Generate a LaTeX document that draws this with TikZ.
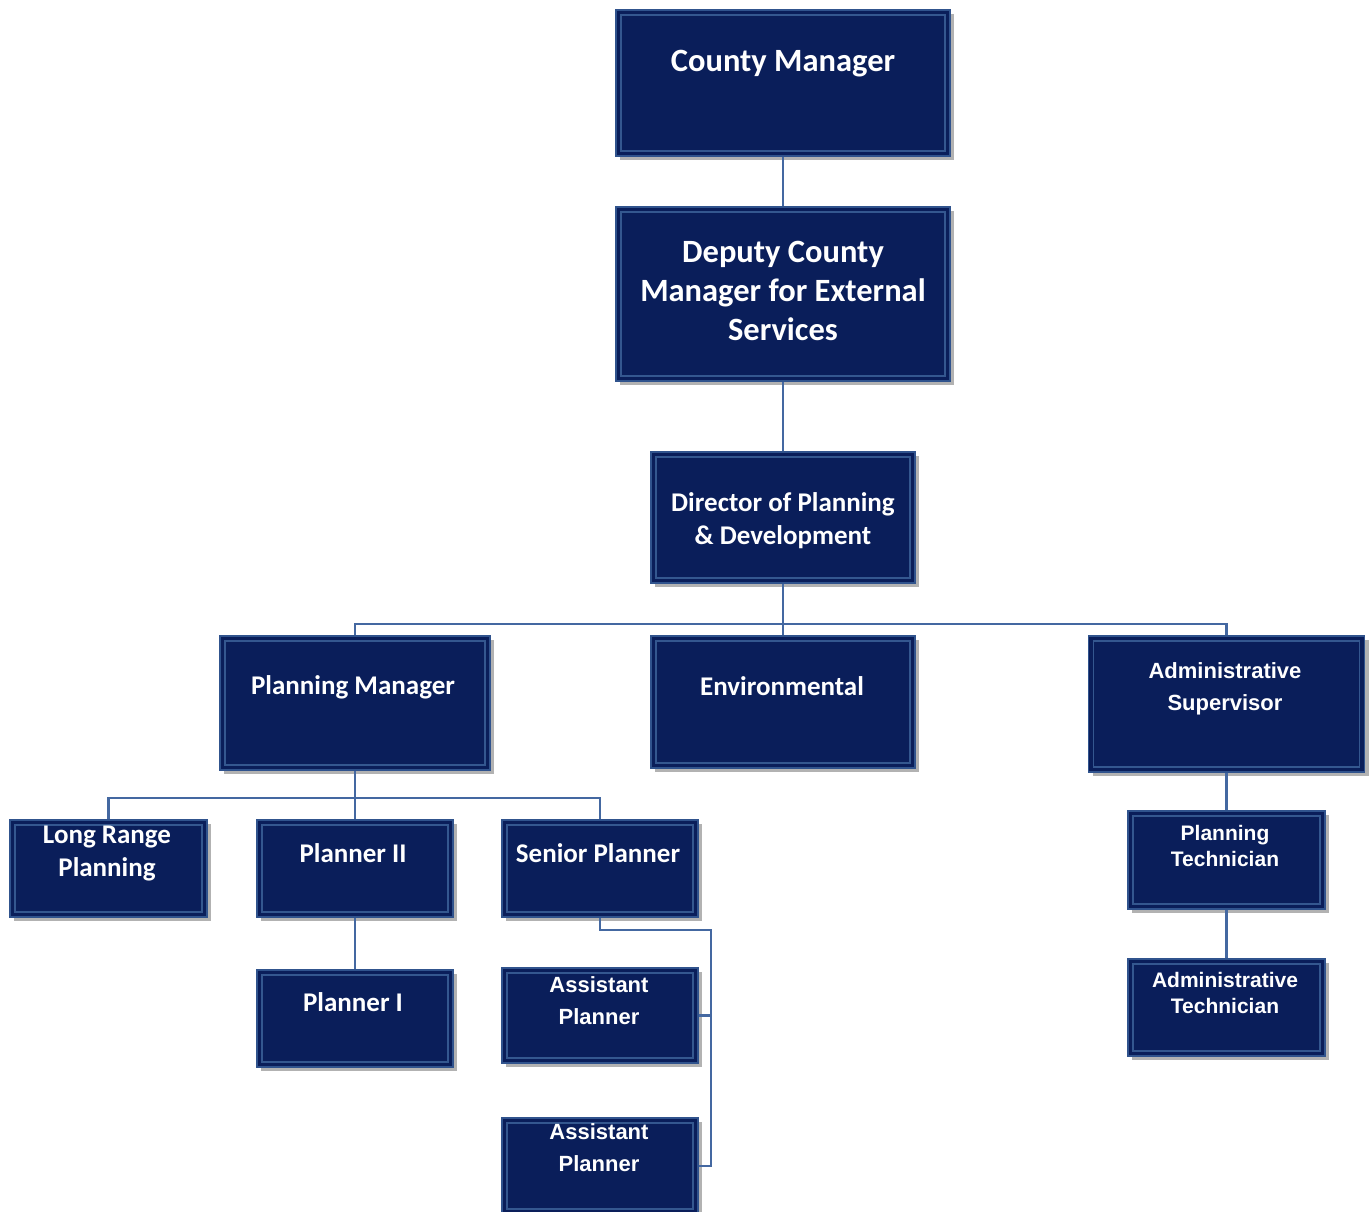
\documentclass[tikz,border=0pt]{standalone}
\usepackage{fontspec}
\setmainfont{Carlito}
\newfontfamily\arialfam{Liberation Sans}
\usetikzlibrary{shadows}
\definecolor{navy}{HTML}{0A1E5A}
\definecolor{rim}{HTML}{30538D}
\definecolor{innerrim}{HTML}{34578F}
\definecolor{wire}{HTML}{4468A1}
\tikzset{
  box/.style={draw=rim, line width=1.8pt, fill=navy, inner sep=0pt,
    drop shadow={shadow xshift=4pt, shadow yshift=-4pt, fill=black!55, opacity=0.55},
    path picture={\draw[innerrim, line width=1.2pt]
        ([shift={(5,5)}]path picture bounding box.north west) rectangle
        ([shift={(-5,-5)}]path picture bounding box.south east);}},
  txt/.style={text=white, align=center, inner sep=0pt, font=\bfseries\fontsize{27}{33}\selectfont},
  big/.style={txt, font=\bfseries\fontsize{32.5}{39}\selectfont},
  ar/.style={txt, font=\arialfam\bfseries\fontsize{22}{32}\selectfont},
  arsmall/.style={txt, font=\arialfam\bfseries\fontsize{21}{26}\selectfont},
  conn/.style={draw=wire, line width=2.4pt}
}
\begin{document}
\begin{tikzpicture}[x=1pt,y=-1pt]
\useasboundingbox[fill=white] (0,0) rectangle (1371,1212);

% helper points for the horizontal bars and the side run
\coordinate (bar3) at (783,624);
\coordinate (bar4) at (355,798);
\coordinate (sprun) at (711,930);

% boxes
\node[box, minimum width=334pt, minimum height=146pt] (cm)  at (783,83) {};
\node[box, minimum width=334pt, minimum height=174pt] (dcm) at (783,294) {};
\node[box, minimum width=264pt, minimum height=131pt] (dir) at (783,517.5) {};
\node[box, minimum width=270pt, minimum height=134pt] (pm)  at (355,703) {};
\node[box, minimum width=264pt, minimum height=132pt] (env) at (783,702) {};
\node[box, minimum width=276pt, minimum height=136pt] (as)  at (1226.5,704) {};
\node[box, minimum width=197pt, minimum height=97pt] (lrp) at (108.5,868.5) {};
\node[box, minimum width=196pt, minimum height=97pt] (p2)  at (355,868.5) {};
\node[box, minimum width=196pt, minimum height=97pt] (sp)  at (600,868.5) {};
\node[box, minimum width=196pt, minimum height=97pt] (p1)  at (355,1018.5) {};
\node[box, minimum width=196pt, minimum height=95pt] (ap1) at (600,1015.5) {};
\node[box, minimum width=196pt, minimum height=96pt] (ap2) at (600,1166) {};
\node[box, minimum width=197pt, minimum height=98pt] (pt)  at (1226.5,860) {};
\node[box, minimum width=197pt, minimum height=97pt] (at)  at (1226.5,1007.5) {};

% reporting lines
\draw[conn] (cm.south) -- (dcm.north);
\draw[conn] (dcm.south) -- (dir.north);
\draw[conn] (dir.south) -- (env.north);
\draw[conn] (pm.north) -- (pm.north |- bar3) -- (as.north |- bar3) -- (as.north);
\draw[conn] (pm.south) -- (p2.north);
\draw[conn] (lrp.north) -- (lrp.north |- bar4) -- (sp.north |- bar4) -- (sp.north);
\draw[conn] (p2.south) -- (p1.north);
\draw[conn] (sp.south) -- (sp.south |- sprun) -- (sprun) -- (sprun |- ap2.east) -- (ap2.east);
\draw[conn] (sprun |- ap1.east) -- (ap1.east);
\draw[conn] (as.south) -- (pt.north);
\draw[conn] (pt.south) -- (at.north);

% titles
\node[big] (tcm)  at (783,64) {County Manager};
\node[big] (tdcm) at (783,291) {Deputy County\\Manager for External\\Services};
\node[txt] (tdir) at (783,521) {Director of Planning\\\& Development};
\node[txt] (tpm)  at (353,687) {Planning Manager};
\node[txt] (tenv) at (782,686) {Environmental};
\node[ar]  (tas)  at (1225,689) {Administrative\\Supervisor};
\node[txt] (tlrp) at (107,854) {Long Range\\Planning};
\node[txt] (tp2)  at (353,853) {Planner II};
\node[txt] (tsp)  at (598,853) {Senior Planner};
\node[txt] (tp1)  at (353,1002) {Planner I};
\node[ar]  (tap1) at (599,1001) {Assistant\\Planner};
\node[ar]  (tap2) at (599,1148) {Assistant\\Planner};
\node[arsmall] (tpt) at (1225,846) {Planning\\Technician};
\node[arsmall] (tat) at (1225,993) {Administrative\\Technician};
\end{tikzpicture}
\end{document}
